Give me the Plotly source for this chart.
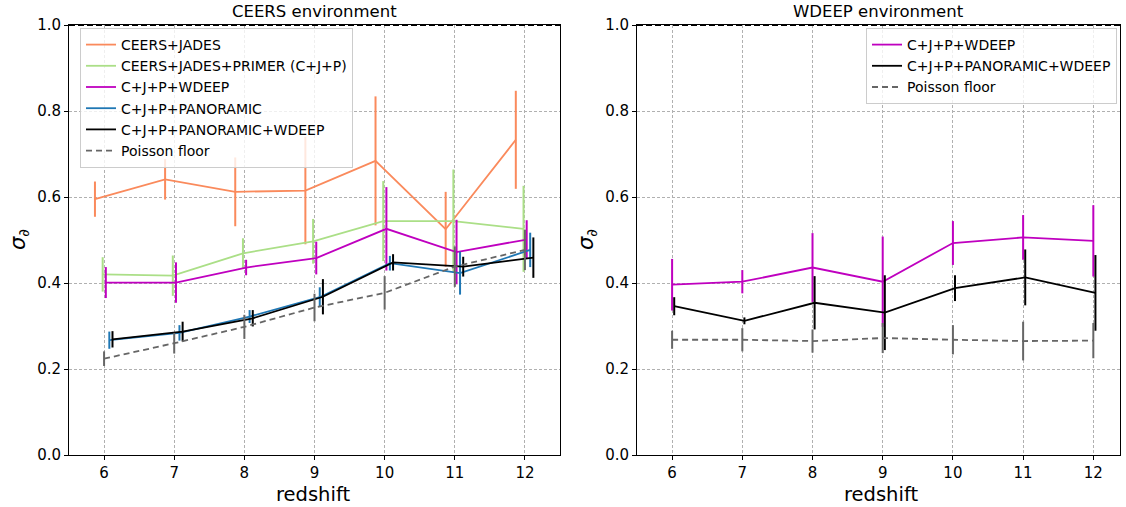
import plotly.graph_objects as go

redshift = [6, 7, 8, 9, 10, 11, 12]

# Left panel: CEERS environment
ceers_jades = [0.595, 0.641, 0.612, 0.615, 0.684, 0.525, 0.733]
ceers_jades_err = [0.041, 0.047, 0.080, 0.125, 0.150, 0.087, 0.114]
cjp = [0.420, 0.417, 0.469, 0.497, 0.544, 0.544, 0.526]
cjp_err = [0.040, 0.047, 0.035, 0.052, 0.093, 0.120, 0.100]
cjp_wdeep = [0.401, 0.401, 0.436, 0.458, 0.526, 0.472, 0.501]
cjp_wdeep_err = [0.036, 0.047, 0.018, 0.038, 0.097, 0.075, 0.045]
cjp_pan = [0.267, 0.284, 0.322, 0.367, 0.446, 0.423, 0.477]
cjp_pan_err = [0.020, 0.018, 0.015, 0.023, 0.017, 0.050, 0.040]
cjp_pan_wdeep = [0.269, 0.287, 0.318, 0.368, 0.448, 0.438, 0.459]
cjp_pan_wdeep_err = [0.019, 0.023, 0.019, 0.041, 0.019, 0.023, 0.047]
poisson_l = [0.224, 0.260, 0.298, 0.343, 0.377, 0.438, 0.477]
poisson_l_err = [0.017, 0.024, 0.028, 0.032, 0.039, 0.047, 0.047]

# Right panel: WDEEP environment
w_cjp_wdeep = [0.396, 0.403, 0.436, 0.403, 0.493, 0.506, 0.498]
w_cjp_wdeep_err = [0.060, 0.027, 0.080, 0.105, 0.051, 0.052, 0.083]
w_cjp_pan_wdeep = [0.346, 0.312, 0.354, 0.331, 0.388, 0.413, 0.377]
w_cjp_pan_wdeep_err = [0.021, 0.008, 0.062, 0.087, 0.030, 0.065, 0.088]
w_poisson = [0.268, 0.268, 0.265, 0.272, 0.268, 0.265, 0.266]
w_poisson_err = [0.021, 0.027, 0.027, 0.035, 0.034, 0.045, 0.041]

y_ticks = [0.0, 0.2, 0.4, 0.6, 0.8, 1.0]
x_ticks = redshift

ORANGE = "#FA8A5C"
GREEN = "#ABDF87"
MAGENTA = "#BF00BF"
BLUE = "#1f77b4"
BLACK = "#000000"
GREY = "#666666"

W, H = 1126, 507


def px_x(p):
    return p / W


def px_y(p):
    return (H - p) / H


fig = go.Figure()


def add(x, y, err, name, color, xa, ya, legend, offset=0.0, dash="solid"):
    fig.add_trace(go.Scatter(
        x=[v + offset for v in x], y=y, name=name, mode="lines",
        line=dict(color=color, width=1.8, dash=dash),
        error_y=dict(type="data", array=err, visible=True, width=0,
                     thickness=2, color=color),
        xaxis=xa, yaxis=ya, legend=legend,
    ))


add(redshift, ceers_jades, ceers_jades_err, "CEERS+JADES", ORANGE, "x", "y", "legend", -0.13)
add(redshift, cjp, cjp_err, "CEERS+JADES+PRIMER (C+J+P)", GREEN, "x", "y", "legend", -0.02)
add(redshift, cjp_wdeep, cjp_wdeep_err, "C+J+P+WDEEP", MAGENTA, "x", "y", "legend", 0.025)
add(redshift, cjp_pan, cjp_pan_err, "C+J+P+PANORAMIC", BLUE, "x", "y", "legend", 0.075)
add(redshift, cjp_pan_wdeep, cjp_pan_wdeep_err, "C+J+P+PANORAMIC+WDEEP", BLACK, "x", "y", "legend", 0.12)
add(redshift, poisson_l, poisson_l_err, "Poisson floor", GREY, "x", "y", "legend", 0.0, "6px,4px")

add(redshift, w_cjp_wdeep, w_cjp_wdeep_err, "C+J+P+WDEEP", MAGENTA, "x2", "y2", "legend2", 0.0)
add(redshift, w_cjp_pan_wdeep, w_cjp_pan_wdeep_err, "C+J+P+PANORAMIC+WDEEP", BLACK, "x2", "y2", "legend2", 0.03)
add(redshift, w_poisson, w_poisson_err, "Poisson floor", GREY, "x2", "y2", "legend2", 0.0, "6px,4px")

font = dict(family="DejaVu Sans", size=14, color="black")
ydom = [px_y(455), px_y(25)]

common_x = dict(tickvals=x_ticks, ticks="outside", ticklen=4, tickcolor="black",
                showline=True, linecolor="black", linewidth=1, mirror=True,
                showgrid=True, gridcolor="#b0b0b0", gridwidth=0.8, griddash="3px,2px",
                zeroline=False, automargin=False,
                tickfont=dict(family="DejaVu Sans", size=15))
common_y = dict(range=[0, 1], tickvals=y_ticks, tickformat=".1f", ticks="outside",
                ticklen=4, tickcolor="black", showline=True, linecolor="black",
                linewidth=1, mirror=True, showgrid=True, gridcolor="#b0b0b0",
                gridwidth=0.8, griddash="3px,2px", zeroline=False, automargin=False,
                tickfont=dict(family="DejaVu Sans", size=15))

fig.update_layout(
    width=W, height=H, margin=dict(l=0, r=0, t=0, b=0, autoexpand=False),
    paper_bgcolor="white", plot_bgcolor="white", font=font,
    xaxis=dict(domain=[px_x(69), px_x(560)], range=[5.5, 12.5], anchor="y", **common_x),
    yaxis=dict(domain=ydom, anchor="x", **common_y),
    xaxis2=dict(domain=[px_x(637), px_x(1120)], range=[5.5, 12.38], anchor="y2", **common_x),
    yaxis2=dict(domain=ydom, anchor="x2", **common_y),
    legend=dict(x=px_x(80), y=px_y(28), xanchor="left", yanchor="top",
                bgcolor="rgba(255,255,255,0.8)", bordercolor="#cccccc", borderwidth=1,
                font=dict(family="DejaVu Sans", size=14), tracegroupgap=0,
                itemwidth=30),
    legend2=dict(x=px_x(866), y=px_y(28), xanchor="left", yanchor="top",
                 bgcolor="rgba(255,255,255,0.8)", bordercolor="#cccccc", borderwidth=1,
                 font=dict(family="DejaVu Sans", size=14), tracegroupgap=0,
                 itemwidth=30),
    showlegend=True,
)

# dashed line at y = 1
for xr, yr in (("x", "y"), ("x2", "y2")):
    fig.add_shape(type="line", xref=f"{xr} domain", yref=yr, x0=0, x1=1, y0=1, y1=1,
                  line=dict(color="black", width=2, dash="6px,3px"))

ann = [
    dict(text="CEERS environment", x=px_x(314), y=px_y(11), font=dict(size=16.5)),
    dict(text="WDEEP environment", x=px_x(878), y=px_y(11), font=dict(size=16.5)),
    dict(text="redshift", x=px_x(313), y=px_y(494), font=dict(size=19.5)),
    dict(text="redshift", x=px_x(881), y=px_y(494), font=dict(size=19.5)),
    dict(text="<i>σ</i><sub>∂</sub>", x=px_x(19), y=px_y(240), font=dict(size=21), textangle=-90),
    dict(text="<i>σ</i><sub>∂</sub>", x=px_x(587), y=px_y(240), font=dict(size=21), textangle=-90),
]
for a in ann:
    fig.add_annotation(xref="paper", yref="paper", showarrow=False,
                       xanchor="center", yanchor="middle", **a)

fig.write_html("out.html", config={"displayModeBar": False},
               post_script="document.body.style.margin='0';document.body.style.padding='0';")
